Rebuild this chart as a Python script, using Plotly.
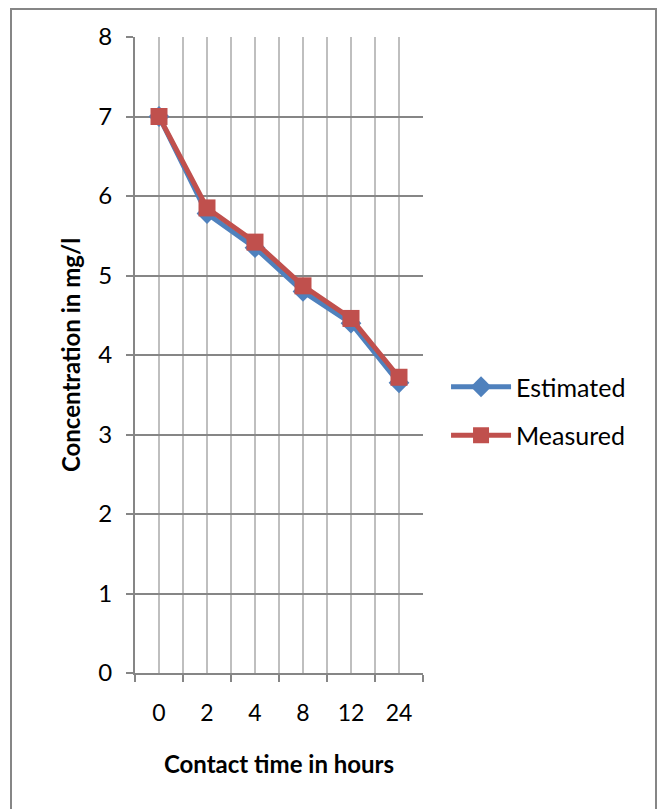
import plotly.graph_objects as go

categories = ["0", "2", "4", "8", "12", "24"]
estimated = [7.0, 5.78, 5.35, 4.80, 4.40, 3.65]
measured = [7.0, 5.85, 5.42, 4.87, 4.46, 3.72]
y_ticks = [0, 1, 2, 3, 4, 5, 6, 7, 8]

x_idx = list(range(len(categories)))

W, H = 658, 809
L, R, T, B = 135, 423, 37, 673

fig = go.Figure()
fig.add_trace(go.Scatter(
    x=x_idx, y=estimated, name="Estimated", mode="lines+markers",
    legendgroup="est",
    line=dict(color="#4F81BD", width=5),
    marker=dict(symbol="diamond", size=16, color="#4F81BD"),
))
fig.add_trace(go.Scatter(
    x=x_idx, y=measured, name="Measured", mode="lines+markers",
    legendgroup="meas",
    line=dict(color="#C0504D", width=5),
    marker=dict(symbol="square", size=17, color="#C0504D"),
))

font = "Lato, 'Open Sans', sans-serif"
fig.update_layout(
    width=W, height=H,
    margin=dict(l=L, r=W - R, t=T, b=H - B),
    paper_bgcolor="white", plot_bgcolor="white",
    font=dict(family=font, size=23, color="black"),
    showlegend=True,
    legend=dict(x=1.08, y=(B - 411) / (B - T), xanchor="left", yanchor="middle",
                font=dict(size=25), tracegroupgap=13, itemwidth=60),
    xaxis=dict(
        range=[-0.5, len(categories) - 0.5],
        tickmode="array", tickvals=x_idx, ticktext=categories,
        ticks="", showgrid=True, gridcolor="#BFBFBF", gridwidth=2,
        showline=True, linecolor="#868686", linewidth=2,
        zeroline=False, ticklabelstandoff=18,
        minor=dict(tickmode="linear", tick0=-0.5, dtick=1, ticks="outside",
                   ticklen=7, tickwidth=2, tickcolor="#868686",
                   showgrid=True, gridcolor="#BFBFBF", gridwidth=2),
        title=dict(text="<b>Contact time in hours</b>", font=dict(size=24), standoff=32),
        tickfont=dict(size=23),
    ),
    yaxis=dict(
        range=[0, 8], tickmode="array", tickvals=y_ticks,
        ticks="outside", ticklen=7, tickwidth=2, tickcolor="#868686",
        showgrid=True, gridcolor="#868686", gridwidth=2,
        showline=True, linecolor="#868686", linewidth=2, zeroline=False,
        ticklabelstandoff=9,
        title=dict(text="<b>Concentration in mg/l</b>", font=dict(size=24), standoff=11),
        tickfont=dict(size=24),
    ),
)

# outer chart border
pw, ph = R - L, B - T
fig.add_shape(type="rect", xref="paper", yref="paper",
              x0=(11 - L) / pw, x1=(656 - L) / pw,
              y0=(B - 820) / ph, y1=(B - 9) / ph,
              line=dict(color="#868686", width=2), fillcolor="rgba(0,0,0,0)",
              layer="below")

fig.write_html("out.html")
